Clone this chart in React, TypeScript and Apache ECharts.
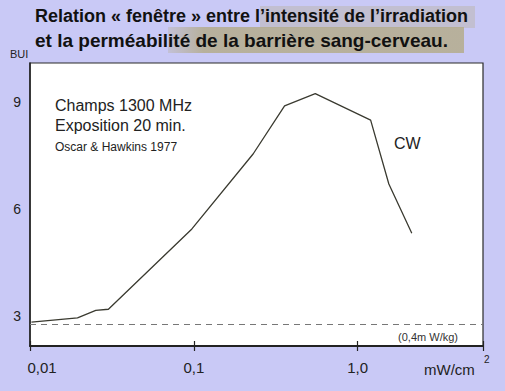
import React, { useEffect, useRef } from "react";
import * as echarts from "echarts";

// Intensité (mW/cm²) and BUI values
const intensity = [0.0102, 0.0195, 0.0252, 0.0301, 0.0973, 0.23, 0.358, 0.551, 1.2, 1.55, 2.14];
const bui = [2.83, 2.95, 3.16, 3.19, 5.44, 7.54, 8.89, 9.23, 8.49, 6.7, 5.32];
const yTickValues = [3, 6, 9];
const xTickLabels: Record<string, string> = { "-2": "0,01", "-1": "0,1", "0": "1,0" };
const thresholdValue = 2.78;

const titleLines = [
  "Relation « fenêtre » entre l’intensité de l’irradiation",
  "et la perméabilité de la barrière sang-cerveau.",
];
const noteLines = ["Champs 1300 MHz", "Exposition 20 min."];
const sourceText = "Oscar & Hawkins 1977";

export default function App() {
  const ref = useRef<HTMLDivElement>(null);
  useEffect(() => {
    if (!ref.current) return;
    const chart = echarts.init(ref.current, null, { renderer: "svg" });
    const font = "'Liberation Sans', Arial, sans-serif";
    const data = intensity.map((v, i) => [Math.log10(v), bui[i]]);
    const xCommon = {
      type: "value" as const,
      min: -2,
      max: 0.765,
      interval: 1,
      splitLine: { show: false },
    };
    chart.setOption({
      animation: false,
      backgroundColor: "#c9c9f6",
      textStyle: { fontFamily: font },
      grid: {
        left: 30,
        right: 22,
        top: 63,
        bottom: 45,
        show: true,
        backgroundColor: "#ffffff",
        borderColor: "#2a2a2a",
        borderWidth: 1.2,
      },
      xAxis: [
        {
          ...xCommon,
          axisLine: { show: true, onZero: false, lineStyle: { color: "#222", width: 2 } },
          axisTick: { show: true, inside: false, length: 5, lineStyle: { color: "#222", width: 1.2 } },
          axisLabel: {
            margin: 14,
            fontSize: 15,
            color: "#222",
            fontFamily: font,
            formatter: (v: number) => {
              const key = String(Math.round(v));
              if (Math.abs(v - Math.round(v)) > 1e-6) return "";
              if (key === "-2") return "{f|" + xTickLabels[key] + "}";
              return xTickLabels[key] ?? "";
            },
            rich: { f: { fontSize: 15, color: "#222", padding: [0, 0, 0, 24], fontFamily: font } },
          },
        },
        {
          ...xCommon,
          position: "bottom",
          axisLine: { show: false, onZero: false },
          axisTick: { show: true, inside: true, length: 5, lineStyle: { color: "#222", width: 1.2 } },
          axisLabel: { show: false },
        },
      ],
      yAxis: {
        type: "value",
        min: 2.16,
        max: 10.09,
        splitLine: { show: false },
        axisLine: { show: true, onZero: false, lineStyle: { color: "#222", width: 1.5 } },
        axisTick: { show: false },
        axisLabel: {
          customValues: yTickValues,
          margin: 9,
          fontSize: 14,
          color: "#222",
          fontFamily: font,
        },
      },
      series: [
        {
          type: "line",
          xAxisIndex: 0,
          data,
          symbol: "none",
          lineStyle: { color: "#3a3a30", width: 1.3 },
          markLine: {
            silent: true,
            symbol: ["none", "none"],
            label: { show: false },
            lineStyle: { color: "#777", type: [6, 5], width: 1 },
            data: [{ yAxis: thresholdValue }],
          },
        },
      ],
      graphic: [
        {
          type: "rect",
          shape: { x: 260, y: 6, width: 215, height: 22 },
          style: { fill: "rgba(180,172,140,0.35)" },
          z: 0,
        },
        {
          type: "rect",
          shape: { x: 168, y: 27, width: 296, height: 26 },
          style: {
            fill: new echarts.graphic.LinearGradient(0, 0, 1, 0, [
              { offset: 0, color: "rgba(180,172,140,0.3)" },
              { offset: 0.12, color: "rgba(180,172,140,0.85)" },
              { offset: 1, color: "rgba(180,172,140,0.85)" },
            ]),
          },
          z: 0,
        },
        {
          type: "text",
          x: 35,
          y: 16,
          style: { text: titleLines[0], font: "bold 18px " + font, fill: "#111", textVerticalAlign: "middle" },
        },
        {
          type: "text",
          x: 35,
          y: 40,
          style: { text: titleLines[1], font: "bold 19px " + font, fill: "#111", textVerticalAlign: "middle" },
        },
        {
          type: "text",
          x: 10,
          y: 54,
          style: { text: "BUI", font: "11px " + font, fill: "#222", textVerticalAlign: "middle" },
        },
        {
          type: "text",
          x: 55,
          y: 105,
          style: { text: noteLines[0], font: "16px " + font, fill: "#222", textVerticalAlign: "middle" },
        },
        {
          type: "text",
          x: 55,
          y: 125,
          style: { text: noteLines[1], font: "16px " + font, fill: "#222", textVerticalAlign: "middle" },
        },
        {
          type: "text",
          x: 55,
          y: 147,
          style: { text: sourceText, font: "12px " + font, fill: "#222", textVerticalAlign: "middle" },
        },
        {
          type: "text",
          x: 394,
          y: 143,
          style: { text: "CW", font: "16px " + font, fill: "#222", textVerticalAlign: "middle" },
        },
        {
          type: "text",
          x: 458,
          y: 337,
          style: { text: "(0,4m W/kg)", font: "11px " + font, fill: "#333", textAlign: "right", textVerticalAlign: "middle" },
        },
        {
          type: "text",
          x: 424,
          y: 369,
          style: { text: "mW/cm", font: "15px " + font, fill: "#222", textVerticalAlign: "middle" },
        },
        {
          type: "text",
          x: 484,
          y: 359,
          style: { text: "2", font: "10px " + font, fill: "#222", textVerticalAlign: "middle" },
        },
      ],
    });
    return () => chart.dispose();
  }, []);
  return (
    <div
      ref={ref}
      style={{ position: "fixed", left: 0, top: 0, width: 505, height: 391 }}
    />
  );
}
